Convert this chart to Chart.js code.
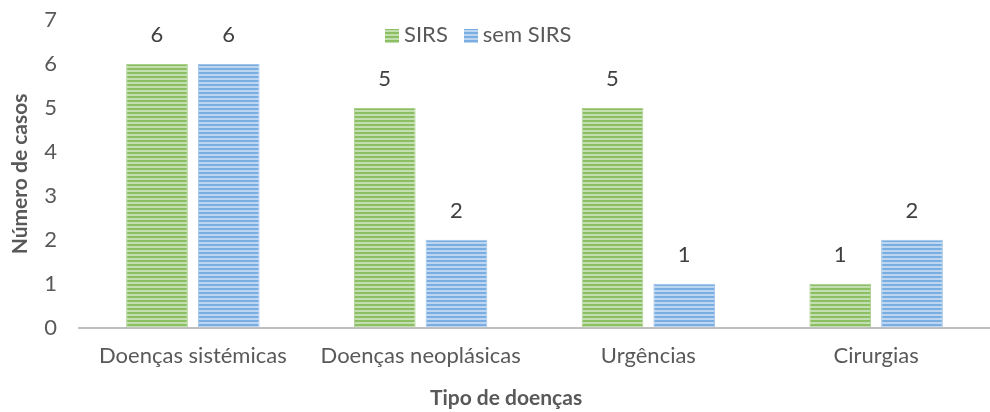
<!DOCTYPE html>
<html>
<head>
<meta charset="utf-8">
<script src="https://cdn.jsdelivr.net/npm/chart.js@4"></script>
<style>
  body { margin: 0; background: #fff; }
  #wrap { position: relative; width: 990px; height: 412px; overflow: hidden; }
  #myChart { display: block; margin-top: -15px; }
  #legend { position: absolute; top: 20px; left: 385px; font: 22px Lato, sans-serif; color: #595959; display: flex; gap: 16px; }
  #legend span.box { display: inline-block; width: 14px; height: 14px; margin-right: 5px; vertical-align: -1px; }
  #xTitle { position: absolute; top: 384px; left: 0; width: 1012px; text-align: center; font: bold 21px Lato, sans-serif; color: #595959; }
</style>
</head>
<body>
<div id="wrap">
  <canvas id="myChart" width="990" height="427"></canvas>
  <div id="legend">
    <div><span class="box" id="boxA"></span>SIRS</div>
    <div><span class="box" id="boxB"></span>sem SIRS</div>
  </div>
  <div id="xTitle">Tipo de doenças</div>
</div>
<script>
const categories = ["Doenças sistémicas", "Doenças neoplásicas", "Urgências", "Cirurgias"];
const sirs = [6, 5, 5, 1];
const semSirs = [6, 2, 1, 2];
const yTicks = [0, 1, 2, 3, 4, 5, 6, 7];

function stripes(dark, light) {
  const c = document.createElement("canvas");
  c.width = 4;
  c.height = 4;
  const g = c.getContext("2d");
  g.fillStyle = dark;
  g.fillRect(0, 0, 4, 4);
  g.fillStyle = light;
  g.fillRect(0, 1, 4, 2);
  return c;
}

const greenC = stripes("#8cbf64", "#c4dfaf");
const blueC = stripes("#7aaee0", "#bcd6f1");
const ctx = document.getElementById("myChart");
const g2 = ctx.getContext("2d");
const greenFill = g2.createPattern(greenC, "repeat");
const blueFill = g2.createPattern(blueC, "repeat");
document.getElementById("boxA").style.background = "url(" + greenC.toDataURL() + ")";
document.getElementById("boxB").style.background = "url(" + blueC.toDataURL() + ")";

const font = "Lato";
const fs = 22;

const valueLabels = {
  id: "valueLabels",
  afterDatasetsDraw(chart) {
    const c = chart.ctx;
    c.save();
    c.font = fs + "px " + font;
    c.fillStyle = "#404040";
    c.textAlign = "center";
    c.textBaseline = "middle";
    chart.data.datasets.forEach((ds, i) => {
      chart.getDatasetMeta(i).data.forEach((bar, j) => {
        c.fillText(ds.data[j], bar.x, bar.y - 29);
      });
    });
    c.restore();
  },
};

new Chart(ctx, {
  type: "bar",
  data: {
    labels: categories,
    datasets: [
      {
        label: "SIRS",
        data: sirs,
        backgroundColor: greenFill,
        borderColor: "#a9cf8d",
        borderWidth: { left: 1, right: 1, top: 1, bottom: 0 },
        categoryPercentage: 0.63,
        barPercentage: 0.86,
      },
      {
        label: "sem SIRS",
        data: semSirs,
        backgroundColor: blueFill,
        borderColor: "#9fc3e8",
        borderWidth: { left: 1, right: 1, top: 1, bottom: 0 },
        categoryPercentage: 0.63,
        barPercentage: 0.86,
      },
    ],
  },
  options: {
    responsive: false,
    animation: false,
    layout: { padding: { top: 0, right: 0, left: 0, bottom: 28 } },
    plugins: { legend: { display: false }, tooltip: { enabled: false } },
    scales: {
      x: {
        grid: { display: false, drawTicks: false },
        border: { color: "#bfbfbf", width: 2 },
        ticks: { color: "#595959", font: { family: font, size: fs }, padding: 15 },
      },
      y: {
        min: 0,
        max: 7,
        afterBuildTicks: (axis) => { axis.ticks = yTicks.map((v) => ({ value: v })); },
        afterFit: (axis) => { axis.width = 79; },
        grid: { display: false, drawTicks: false },
        border: { display: false },
        ticks: { color: "#595959", font: { family: font, size: fs }, padding: 22 },
        title: { display: true, text: "Número de casos", color: "#595959", font: { family: font, size: 21, weight: "bold" }, padding: { top: 8, bottom: 0 } },
      },
    },
  },
  plugins: [valueLabels],
});
</script>
</body>
</html>
